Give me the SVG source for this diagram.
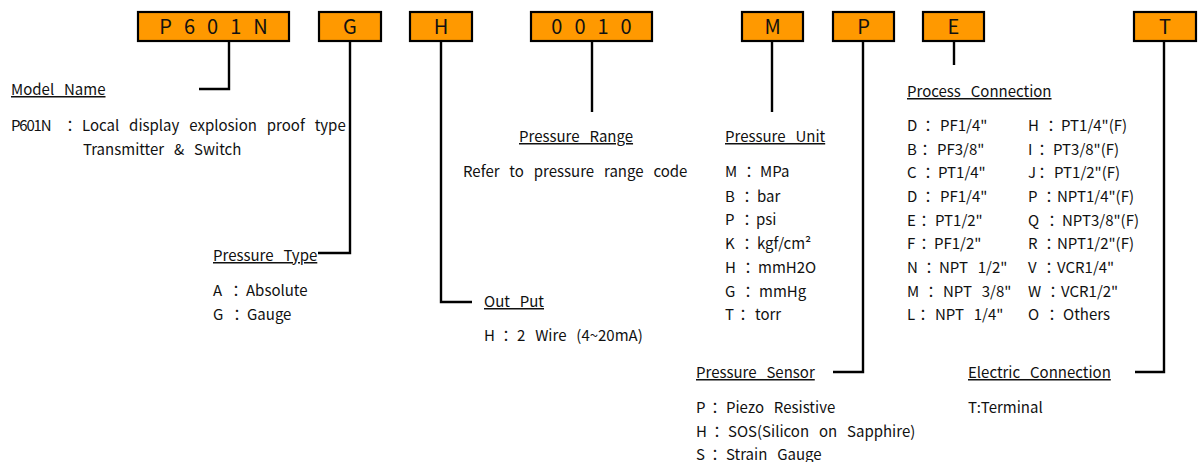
<svg xmlns="http://www.w3.org/2000/svg" width="1198" height="462" viewBox="0 0 1198 462">
<style>
.box{fill:#FF9900;stroke:#000;stroke-width:2.2}
.code{font-family:"Noto Sans CJK KR","Open Sans",sans-serif;font-size:20px;fill:#111;text-anchor:middle;word-spacing:7.5px}
.t{font-family:"Noto Sans CJK KR","Open Sans",sans-serif;font-size:15px;fill:#111;word-spacing:6.5px}
.h{text-decoration:underline}
.ln{fill:none;stroke:#000;stroke-width:2.4}
</style>
<rect width="1198" height="462" fill="#fff"/>
<g id="connectors">
<path class="ln" d="M229,41 V89 H199"/>
<path class="ln" d="M350,41 V253 H318"/>
<path class="ln" d="M441,41 V302 H472"/>
<path class="ln" d="M592,41 V112"/>
<path class="ln" d="M772,41 V112"/>
<path class="ln" d="M863,41 V372 H833"/>
<path class="ln" d="M954,41 V65"/>
<path class="ln" d="M1164,41 V372 H1135"/>
</g>
<g id="box-model"><rect class="box" x="138" y="12" width="151" height="29"/><text class="code" x="213.5" y="34">P 6 0 1 N</text></g>
<g id="box-type"><rect class="box" x="319" y="12" width="62" height="29"/><text class="code" x="350" y="34">G</text></g>
<g id="box-output"><rect class="box" x="410" y="12" width="62" height="29"/><text class="code" x="441" y="34">H</text></g>
<g id="box-range"><rect class="box" x="531" y="12" width="121" height="29"/><text class="code" x="591.5" y="34">0 0 1 0</text></g>
<g id="box-unit"><rect class="box" x="742" y="12" width="61" height="29"/><text class="code" x="772.5" y="34">M</text></g>
<g id="box-sensor"><rect class="box" x="833" y="12" width="61" height="29"/><text class="code" x="863.5" y="34">P</text></g>
<g id="box-process"><rect class="box" x="923" y="12" width="61" height="29"/><text class="code" x="953.5" y="34">E</text></g>
<g id="box-electric"><rect class="box" x="1134" y="12" width="62" height="29"/><text class="code" x="1165" y="34">T</text></g>
<g id="model-name">
<text class="t h" x="11" y="95">Model Name</text>
<text class="t" x="11" y="131"><tspan letter-spacing="-1.2">P601N</tspan><tspan x="62.5">：</tspan><tspan x="82">Local display explosion proof type</tspan></text>
<text class="t" x="83" y="155">Transmitter &amp; Switch</text>
</g>
<g id="pressure-type">
<text class="t h" x="213" y="261">Pressure Type</text>
<text class="t" x="213" y="296">A<tspan x="228.5">：</tspan><tspan x="246">Absolute</tspan></text>
<text class="t" x="213" y="320">G<tspan x="229.5">：</tspan><tspan x="247">Gauge</tspan></text>
</g>
<g id="out-put">
<text class="t h" x="484" y="307">Out Put</text>
<text class="t" x="484" y="341">H<tspan x="498.5">：</tspan><tspan x="517">2 Wire (4~20mA)</tspan></text>
</g>
<g id="pressure-range">
<text class="t h" x="519" y="142">Pressure Range</text>
<text class="t" x="463" y="177">Refer to pressure range code</text>
</g>
<g id="pressure-unit">
<text class="t h" x="725" y="142">Pressure Unit</text>
<text class="t" x="725" y="177">M<tspan x="741.5">：</tspan><tspan x="760">MPa</tspan></text>
<text class="t" x="725" y="202">B<tspan x="739.5">：</tspan><tspan x="757">bar</tspan></text>
<text class="t" x="725" y="225">P<tspan x="739.5">：</tspan><tspan x="756">psi</tspan></text>
<text class="t" x="725" y="249">K<tspan x="739.5">：</tspan><tspan x="757">kgf/cm²</tspan></text>
<text class="t" x="725" y="273">H<tspan x="740.5">：</tspan><tspan x="758">mmH2O</tspan></text>
<text class="t" x="725" y="297">G<tspan x="740.5">：</tspan><tspan x="759">mmHg</tspan></text>
<text class="t" x="725" y="320">T<tspan x="735.5">：</tspan><tspan x="755">torr</tspan></text>
</g>
<g id="process-connection">
<text class="t h" x="907" y="97">Process Connection</text>
<text class="t" x="907" y="131">D<tspan x="920.5">：</tspan><tspan x="940">PF1/4"</tspan></text>
<text class="t" x="907" y="155">B<tspan x="917.5">：</tspan><tspan x="937">PF3/8"</tspan></text>
<text class="t" x="907" y="178">C<tspan x="920.5">：</tspan><tspan x="938">PT1/4"</tspan></text>
<text class="t" x="907" y="202">D<tspan x="920.5">：</tspan><tspan x="940">PF1/4"</tspan></text>
<text class="t" x="907" y="226">E<tspan x="916.5">：</tspan><tspan x="935">PT1/2"</tspan></text>
<text class="t" x="907" y="249">F<tspan x="916.5">：</tspan><tspan x="934">PF1/2"</tspan></text>
<text class="t" x="907" y="273">N<tspan x="921.5">：</tspan><tspan x="939">NPT 1/2"</tspan></text>
<text class="t" x="907" y="297">M<tspan x="923.5">：</tspan><tspan x="943">NPT 3/8"</tspan></text>
<text class="t" x="907" y="320">L<tspan x="915.5">：</tspan><tspan x="935">NPT 1/4"</tspan></text>
<text class="t" x="1028" y="131">H<tspan x="1043.5">：</tspan><tspan x="1061">PT1/4"(F)</tspan></text>
<text class="t" x="1028" y="155">I<tspan x="1034.5">：</tspan><tspan x="1053">PT3/8"(F)</tspan></text>
<text class="t" x="1028" y="178">J<tspan x="1034.5">：</tspan><tspan x="1054">PT1/2"(F)</tspan></text>
<text class="t" x="1028" y="202">P<tspan x="1041.5">：</tspan><tspan x="1057">NPT1/4"(F)</tspan></text>
<text class="t" x="1028" y="226">Q<tspan x="1044.5">：</tspan><tspan x="1062">NPT3/8"(F)</tspan></text>
<text class="t" x="1028" y="249">R<tspan x="1041.5">：</tspan><tspan x="1057">NPT1/2"(F)</tspan></text>
<text class="t" x="1028" y="273">V<tspan x="1041.5">：</tspan><tspan x="1057">VCR1/4"</tspan></text>
<text class="t" x="1028" y="297">W<tspan x="1045.5">：</tspan><tspan x="1061">VCR1/2"</tspan></text>
<text class="t" x="1028" y="320">O<tspan x="1044.5">：</tspan><tspan x="1063">Others</tspan></text>
</g>
<g id="pressure-sensor">
<text class="t h" x="696" y="378">Pressure Sensor</text>
<text class="t" x="696" y="413">P<tspan x="707.5">：</tspan><tspan x="726">Piezo Resistive</tspan></text>
<text class="t" x="696" y="437">H<tspan x="709.5">：</tspan><tspan x="728">SOS(Silicon on Sapphire)</tspan></text>
<text class="t" x="696" y="460">S<tspan x="707.5">：</tspan><tspan x="726">Strain Gauge</tspan></text>
</g>
<g id="electric-connection">
<text class="t h" x="968" y="378">Electric Connection</text>
<text class="t" x="968" y="413">T:Terminal</text>
</g>
</svg>
